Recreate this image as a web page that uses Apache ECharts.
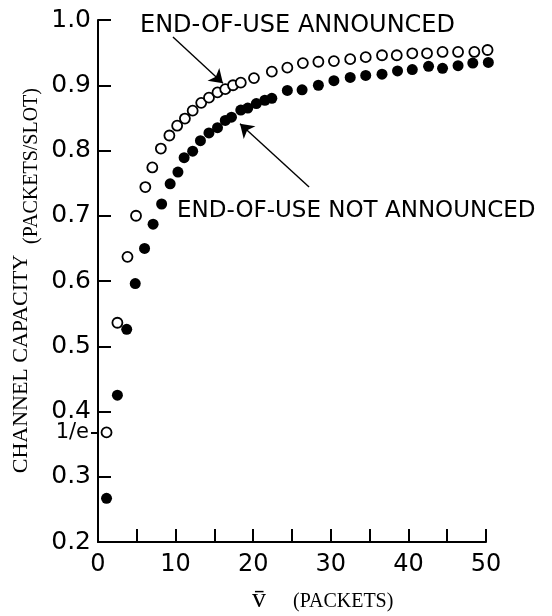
<!DOCTYPE html>
<html><head><meta charset="utf-8">
<script src="https://cdn.jsdelivr.net/npm/echarts@6/dist/echarts.min.js"></script>
<style>html,body{margin:0;padding:0;background:#fff}#c{width:552px;height:616px}</style>
</head><body><div id="c"></div>
<script>
// v-bar (packets) and channel capacity (packets/slot)
const announcedX = [1.1,2.5,3.8,4.9,6.1,7.0,8.1,9.2,10.2,11.2,12.2,13.3,14.3,15.4,16.4,17.4,18.4,
                    20.1,22.4,24.4,26.4,28.4,30.4,32.5,34.5,36.6,38.5,40.5,42.4,44.4,46.4,48.5,50.2];
const announcedY = [0.368,0.536,0.637,0.700,0.744,0.774,0.803,0.823,0.838,0.849,0.861,0.873,0.881,0.889,0.894,0.900,0.904,
                    0.911,0.921,0.927,0.934,0.936,0.937,0.940,0.943,0.946,0.946,0.949,0.949,0.951,0.951,0.951,0.954];
const notAnnouncedX = [1.1,2.5,3.7,4.8,6.0,7.1,8.2,9.3,10.3,11.1,12.2,13.2,14.3,15.4,16.4,17.2,18.4,19.3,20.4,21.5,
                       22.4,24.4,26.3,28.4,30.4,32.5,34.5,36.6,38.6,40.5,42.6,44.4,46.4,48.3,50.3];
const notAnnouncedY = [0.267,0.425,0.526,0.596,0.650,0.687,0.718,0.749,0.767,0.789,0.799,0.815,0.827,0.835,0.846,0.851,0.862,0.865,0.872,0.877,
                       0.880,0.892,0.893,0.900,0.907,0.912,0.915,0.917,0.922,0.924,0.929,0.926,0.930,0.934,0.935];
const xTickLabels = [0,10,20,30,40,50];
const yTickLabels = ['0.2','0.3','0.4','0.5','0.6','0.7','0.8','0.9','1.0'];
const oneOverE = 1 / Math.E;
const seriesNames = ['END-OF-USE ANNOUNCED', 'END-OF-USE NOT ANNOUNCED'];
// annotation arrows, in data coordinates [x, y]
const arrowAnnounced = [[9.66, 0.974], [16.1, 0.903]];
const arrowNotAnnounced = [[27.2, 0.744], [18.3, 0.841]];

const zip = (xs, ys) => xs.map((x, i) => [x, ys[i]]);
const labelFont = 'DejaVu Sans';
const chart = echarts.init(document.getElementById('c'), null, {renderer: 'canvas'});
chart.setOption({
  animation: false,
  backgroundColor: '#fff',
  grid: {left: 98, right: 66, top: 20, bottom: 74},
  xAxis: {
    type: 'value', min: 0, max: 50, interval: 5,
    axisLine: {lineStyle: {color: '#000', width: 2}},
    axisTick: {inside: true, length: 13, lineStyle: {color: '#000', width: 2}},
    axisLabel: {margin: 11, color: '#000', fontFamily: labelFont, fontSize: 24,
      formatter: v => xTickLabels.includes(v) ? String(v) : ''},
    splitLine: {show: false}
  },
  yAxis: [{
    type: 'value', min: 0.2, max: 1.0, interval: 0.1,
    axisLine: {lineStyle: {color: '#000', width: 2}},
    axisTick: {inside: true, length: 13, lineStyle: {color: '#000', width: 2}},
    axisLabel: {margin: 7, color: '#000', fontFamily: labelFont, fontSize: 25,
      formatter: v => yTickLabels[Math.round((v - 0.2) * 10)]},
    splitLine: {show: false}
  }, {
    type: 'value', min: 0.2, max: 1.0, position: 'left',
    axisLine: {show: false},
    axisTick: {show: true, customValues: [oneOverE], inside: false, length: 7, lineStyle: {color: '#000', width: 2}},
    axisLabel: {show: true, customValues: [oneOverE], margin: 9, color: '#000', fontFamily: labelFont, fontSize: 21,
      formatter: () => '1/e'},
    splitLine: {show: false}
  }],
  series: [{
    name: seriesNames[0], type: 'scatter', clip: false,
    data: zip(announcedX, announcedY),
    symbol: 'circle', symbolSize: 10,
    itemStyle: {color: '#fff', borderColor: '#000', borderWidth: 1.8, opacity: 1},
    markLine: {
      silent: true, animation: false, symbol: ['none', 'arrow'], symbolSize: 13,
      label: {show: false},
      lineStyle: {color: '#000', width: 1.4, type: 'solid'},
      data: [
        [{coord: arrowAnnounced[0]}, {coord: arrowAnnounced[1]}],
        [{coord: arrowNotAnnounced[0]}, {coord: arrowNotAnnounced[1]}]
      ]
    }
  }, {
    name: seriesNames[1], type: 'scatter', clip: false,
    data: zip(notAnnouncedX, notAnnouncedY),
    symbol: 'circle', symbolSize: 11,
    itemStyle: {color: '#000', opacity: 1}
  }],
  graphic: [
    {type: 'text', x: 140, y: 26, style: {text: seriesNames[0], font: '24px "DejaVu Sans"', fill: '#000', align: 'left', verticalAlign: 'middle'}},
    {type: 'text', x: 177, y: 211, style: {text: seriesNames[1], font: '23px "DejaVu Sans"', fill: '#000', align: 'left', verticalAlign: 'middle'}},
    {type: 'text', x: 21, y: 364, rotation: Math.PI / 2, style: {text: 'CHANNEL CAPACITY', font: '22px "Liberation Serif"', fill: '#000', align: 'center', verticalAlign: 'middle'}},
    {type: 'text', x: 32, y: 166, rotation: Math.PI / 2, style: {text: '(PACKETS/SLOT)', font: '20px "Liberation Serif"', fill: '#000', align: 'center', verticalAlign: 'middle'}},
    {type: 'text', x: 259, y: 600, style: {text: 'v\u0304', font: '28px "Liberation Serif"', fill: '#000', align: 'center', verticalAlign: 'middle'}},
    {type: 'text', x: 293, y: 602, style: {text: '(PACKETS)', font: '20px "Liberation Serif"', fill: '#000', align: 'left', verticalAlign: 'middle'}}
  ]
});
</script></body></html>
